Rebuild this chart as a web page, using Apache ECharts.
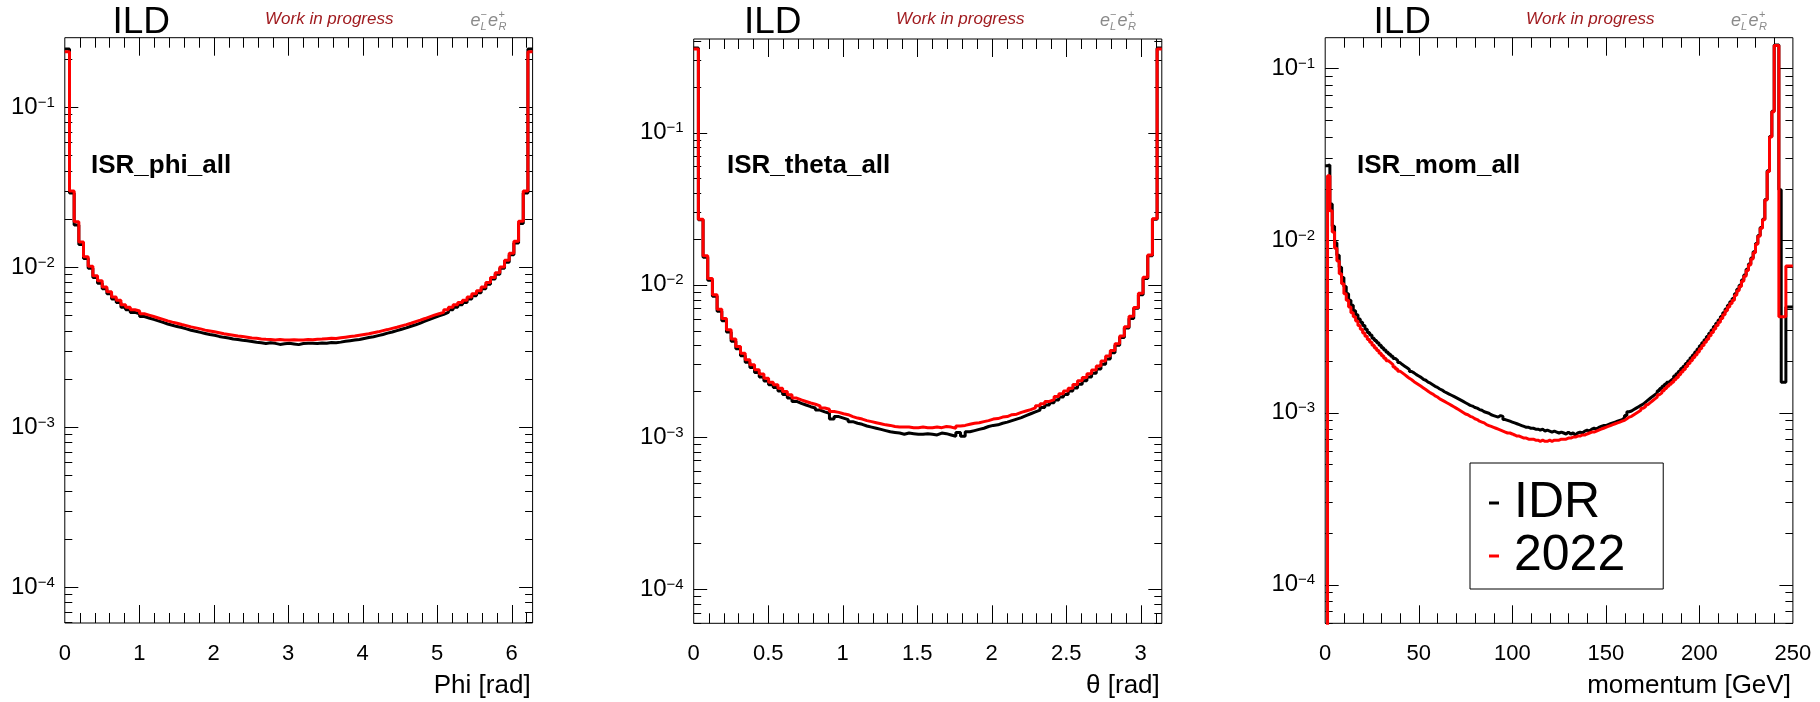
<!DOCTYPE html>
<html><head><meta charset="utf-8">
<script src="https://cdn.jsdelivr.net/npm/echarts@6/dist/echarts.min.js"></script>
<style>html,body{margin:0;padding:0;background:#fff}#c{width:1820px;height:702px}</style>
</head><body><div id="c"></div>
<script>
// ---------------- data (normalised bin contents) ----------------
const phiIDR = [0.23,0.029,0.0183,0.0138,0.0113,0.0098,0.0086,0.0079,0.0073,0.0068,
0.0063,0.006,0.0056,0.0054,0.0052,0.0051,0.0049,0.0048,0.0047,0.0046,
0.0045,0.0044,0.00432,0.00424,0.00418,0.0041,0.00402,0.00396,0.0039,0.00384,
0.00378,0.00374,0.00368,0.00363,0.0036,0.00355,0.00352,0.00348,0.00346,0.00342,
0.00338,0.00336,0.00332,0.00336,0.00333,0.00328,0.00331,0.00333,0.0033,0.00327,
0.00332,0.00333,0.00334,0.00332,0.00335,0.00334,0.00337,0.00336,0.00339,0.00343,
0.00346,0.00349,0.00352,0.00357,0.00362,0.00366,0.00372,0.00378,0.00386,0.00392,
0.004,0.00408,0.00416,0.00426,0.00435,0.00446,0.00458,0.0047,0.00482,0.00494,
0.00506,0.0052,0.0054,0.0056,0.0058,0.006,0.0063,0.0066,0.0069,0.0073,
0.0078,0.0084,0.009,0.0098,0.0107,0.0119,0.0141,0.0187,0.029,0.23];
const phi2022 = [0.221,0.0298,0.0192,0.0143,0.0116,0.0101,0.0088,0.0082,0.0075,0.0070,
0.0065,0.0062,0.0058,0.0056,0.0054,0.0053,0.0051,0.0050,0.0049,0.0048,
0.0047,0.0046,0.00452,0.00445,0.00437,0.0043,0.00422,0.00416,0.0041,0.00403,
0.00398,0.00393,0.00388,0.00382,0.00378,0.00374,0.0037,0.00367,0.00364,0.0036,
0.00358,0.00355,0.00353,0.00352,0.0035,0.00352,0.00349,0.0035,0.00351,0.00349,
0.0035,0.00352,0.00351,0.00353,0.00354,0.00356,0.00358,0.00357,0.00361,0.00364,
0.00367,0.0037,0.00374,0.00378,0.00382,0.00388,0.00393,0.004,0.00406,0.00413,
0.0042,0.00428,0.00436,0.00445,0.00455,0.00465,0.00476,0.00488,0.005,0.0051,
0.0052,0.0054,0.0056,0.0058,0.0060,0.0062,0.0065,0.0068,0.0071,0.0075,
0.0080,0.0086,0.0092,0.0100,0.0110,0.0122,0.0145,0.0193,0.0298,0.221];
const thetaIDR = [0.36,0.0268,0.0152,0.0107,0.0084,0.0067,0.0058,0.0049,0.00425,0.0038,
0.00342,0.0031,0.00286,0.00265,0.00248,0.00233,0.0022,0.00211,0.002,0.0019,
0.0018,0.00171,0.00166,0.00162,0.00158,0.00155,0.0015,0.00146,0.00143,0.00131,
0.00136,0.00133,0.0013,0.00126,0.00123,0.00121,0.00118,0.00116,0.00114,0.00112,
0.0011,0.00108,0.00107,0.00106,0.00104,0.00106,0.00105,0.00104,0.00104,0.00105,
0.00104,0.00103,0.00106,0.00105,0.00103,0.00101,0.00107,0.00101,0.00108,0.0011,
0.00112,0.00114,0.00117,0.00119,0.0012,0.00123,0.00125,0.00128,0.00131,0.00134,
0.00138,0.00142,0.00146,0.0015,0.00156,0.00162,0.00168,0.00175,0.00183,0.0019,
0.002,0.0021,0.00222,0.00234,0.00248,0.00262,0.0028,0.003,0.00325,0.00358,
0.004,0.0045,0.0052,0.006,0.007,0.0086,0.011,0.0155,0.027,0.36];
const theta2022 = [0.355,0.027,0.0155,0.011,0.0086,0.0069,0.006,0.00506,0.0044,0.00393,
0.00355,0.00321,0.00298,0.00276,0.00259,0.00243,0.00229,0.0022,0.00209,0.00199,
0.00189,0.0018,0.00175,0.00171,0.00167,0.00164,0.0016,0.00155,0.00152,0.00147,
0.00145,0.00142,0.0014,0.00136,0.00133,0.00131,0.00128,0.00126,0.00124,0.00122,
0.0012,0.00119,0.00117,0.00116,0.00116,0.00116,0.00115,0.00115,0.00116,0.00115,
0.00115,0.00116,0.00115,0.00117,0.00116,0.00114,0.00118,0.00119,0.00121,0.00123,
0.00124,0.00126,0.00128,0.00131,0.00132,0.00135,0.00136,0.0014,0.00141,0.00145,
0.00148,0.00151,0.00155,0.0016,0.00165,0.00171,0.00176,0.00184,0.00192,0.002,
0.00209,0.00221,0.00234,0.00246,0.0026,0.00275,0.00293,0.00315,0.0034,0.0037,
0.0041,0.0046,0.0053,0.0062,0.0071,0.0088,0.0112,0.0157,0.0272,0.355];
const momIDR = [0.0272,0.0275,0.0163,0.0121,0.0097,0.0082,0.007,0.0061,0.0054,0.0049,
0.0045,0.0042,0.0039,0.0037,0.0035,0.00335,0.0032,0.00305,0.00292,0.00282,
0.0027,0.00262,0.00254,0.00246,0.00238,0.00231,0.00224,0.00218,0.00212,0.00206,
0.00201,0.00195,0.0019,0.00186,0.00182,0.00178,0.00173,0.0017,0.00166,0.00163,
0.0016,0.00156,0.00154,0.0015,0.00148,0.00145,0.00142,0.0014,0.00137,0.00135,
0.00132,0.0013,0.00128,0.00126,0.00124,0.00122,0.0012,0.00118,0.00116,0.00114,
0.00112,0.0011,0.00109,0.00107,0.00106,0.00104,0.00103,0.00101,0.001,0.00099,
0.00097,0.00096,0.00095,0.00094,0.00096,0.00095,0.00091,0.0009,0.00089,0.00088,
0.00087,0.00086,0.00085,0.00084,0.00083,0.00082,0.00082,0.00081,0.00081,0.0008,
0.0008,0.00079,0.0008,0.00078,0.00079,0.00078,0.00077,0.00078,0.00077,0.00076,
0.00077,0.00076,0.00075,0.00077,0.00075,0.00076,0.00074,0.00076,0.00077,0.00076,
0.00078,0.00079,0.00078,0.0008,0.00081,0.0008,0.00082,0.00083,0.00084,0.00084,
0.00085,0.00086,0.00087,0.00088,0.00089,0.0009,0.00091,0.00093,0.00096,0.00101,
0.00102,0.00104,0.00106,0.00108,0.0011,0.00112,0.00115,0.00118,0.00121,0.00124,
0.00127,0.0013,0.00134,0.00138,0.00142,0.00146,0.0015,0.00154,0.00158,0.00163,
0.00168,0.00174,0.0018,0.00186,0.00193,0.002,0.00208,0.00216,0.00225,0.00234,
0.00244,0.00254,0.00265,0.00277,0.00289,0.00302,0.00316,0.0033,0.00345,0.00362,
0.0038,0.004,0.0042,0.0044,0.0046,0.0049,0.0052,0.0055,0.0059,0.0063,
0.0068,0.0073,0.0079,0.0086,0.0096,0.0107,0.0119,0.0133,0.0173,0.0254,
0.0402,0.0565,0.137,0.137,0.0197,0.0015,0.0015,0.0041,0.0041,0.0041];
const mom2022 = [1e-6,0.0238,0.0149,0.0112,0.009,0.0076,0.0064,0.0056,0.0049,0.0045,
0.0041,0.0038,0.0036,0.0034,0.0032,0.00305,0.0029,0.00278,0.00266,0.00256,
0.00246,0.00237,0.00229,0.00221,0.00214,0.00207,0.002,0.00195,0.0019,0.00184,
0.00179,0.00174,0.0017,0.00166,0.00162,0.00158,0.00155,0.00151,0.00148,0.00145,
0.00142,0.00139,0.00136,0.00133,0.0013,0.00128,0.00125,0.00123,0.0012,0.00118,
0.00116,0.00114,0.00112,0.0011,0.00108,0.00106,0.00104,0.00102,0.001,0.00098,
0.00097,0.00095,0.00094,0.00092,0.00091,0.00089,0.00088,0.00087,0.00085,0.00084,
0.00083,0.00082,0.00081,0.0008,0.00079,0.00078,0.00077,0.00076,0.00076,0.00075,
0.00074,0.00073,0.00073,0.00072,0.00071,0.00071,0.0007,0.0007,0.0007,0.00069,
0.00069,0.00068,0.00069,0.00068,0.00068,0.00069,0.00068,0.00069,0.00069,0.00069,
0.0007,0.0007,0.0007,0.00071,0.00071,0.00072,0.00072,0.00073,0.00073,0.00074,
0.00074,0.00075,0.00076,0.00077,0.00077,0.00078,0.00079,0.0008,0.00081,0.00082,
0.00083,0.00084,0.00085,0.00086,0.00087,0.00088,0.00089,0.0009,0.00092,0.00094,
0.00095,0.00097,0.00099,0.00101,0.00103,0.00106,0.00108,0.00111,0.00114,0.00117,
0.0012,0.00123,0.00127,0.0013,0.00134,0.00138,0.00142,0.00146,0.0015,0.00155,
0.0016,0.00166,0.00172,0.00178,0.00185,0.00193,0.002,0.00208,0.00216,0.00225,
0.00235,0.00245,0.00256,0.00267,0.00279,0.00292,0.00306,0.0032,0.00335,0.00352,
0.0037,0.0039,0.0041,0.0043,0.0045,0.0048,0.0051,0.0054,0.0058,0.0062,
0.0067,0.0072,0.0078,0.0085,0.0095,0.0106,0.0118,0.0132,0.0172,0.0252,
0.040,0.056,0.136,0.136,0.0036,0.0036,0.0036,0.0071,0.0071,0.0071];

// histogram ranges and axis tick labels
const phiRange = [0, 2 * Math.PI];
const thetaRange = [0, Math.PI];
const momRange = [0, 250];
const phiXTicks = [0, 1, 2, 3, 4, 5, 6];
const thetaXTicks = [0, 0.5, 1, 1.5, 2, 2.5, 3];
const momXTicks = [0, 50, 100, 150, 200, 250];
const yDecadeTicks = [1e-4, 1e-3, 1e-2, 1e-1];
const seriesNames = ['IDR', '2022'];
const histTitles = ['ISR_phi_all', 'ISR_theta_all', 'ISR_mom_all'];
const axisTitles = ['Phi [rad]', '\u03b8 [rad]', 'momentum [GeV]'];

// ---------------- layout / style ----------------
const FF = 'Liberation Sans';
const COLORS = ['#000000', '#ff0000'];
const layout = [
  {grid: {left: 64.8, top: 37.7, width: 467.8, height: 585.3}, yMin: 5.95e-5, yMax: 0.271,
   xInt: 1, xMinor: 0.2, showMax: false, ild: 112.5, wip: 265, ee: 470.5, name: 91},
  {grid: {left: 693.7, top: 39, width: 468.1, height: 584.3}, yMin: 5.95e-5, yMax: 0.413,
   xInt: 0.5, xMinor: 0.1, showMax: false, ild: 744, wip: 896, ee: 1100, name: 727},
  {grid: {left: 1325.2, top: 37.7, width: 467.7, height: 585.6}, yMin: 5.95e-5, yMax: 0.151,
   xInt: 50, xMinor: 10, showMax: true, ild: 1373.5, wip: 1526, ee: 1731, name: 1357}
];
const ranges = [phiRange, thetaRange, momRange];
const xTickLists = [phiXTicks, thetaXTicks, momXTicks];
const hists = [[phiIDR, phi2022], [thetaIDR, theta2022], [momIDR, mom2022]];

function histLine(vals, range) {
  const n = vals.length, w = (range[1] - range[0]) / n;
  const d = vals.map((v, i) => [range[0] + i * w, v]);
  d.push([range[1], vals[n - 1]]);
  return d;
}
function tickItems(majors, minorStep, range, yMin, yMax) {
  const d = [];
  for (let i = 1; i * minorStep < range[1] - 1e-9; i++) {
    const v = range[0] + i * minorStep;
    const isMajor = majors.some(m => Math.abs(m - v) < 1e-9) ? 1 : 0;
    d.push([v, yMin, 0, isMajor]);
  }
  for (let e = -6; e <= 0; e++) {
    for (let m = 1; m <= 9; m++) {
      const v = m * Math.pow(10, e);
      if (v <= yMin || v >= yMax) continue;
      const isMajor = yDecadeTicks.some(t => Math.abs(t - v) / t < 1e-9) ? 1 : 0;
      d.push([range[0], v, 1, isMajor]);
    }
  }
  return d;
}
function renderTick(params, api) {
  const cs = params.coordSys;
  const kind = api.value(2), major = api.value(3);
  const p = api.coord([api.value(0), api.value(1)]);
  const st = {stroke: '#000', lineWidth: 1};
  if (kind === 0) {
    const len = major ? 18 : 10;
    const x = Math.round(p[0]) + 0.5;
    return {type: 'group', children: [
      {type: 'line', shape: {x1: x, y1: cs.y + cs.height, x2: x, y2: cs.y + cs.height - len}, style: st},
      {type: 'line', shape: {x1: x, y1: cs.y, x2: x, y2: cs.y + len}, style: st}
    ]};
  }
  const len = major ? 13.5 : 7.5;
  const y = Math.round(p[1]) + 0.5;
  return {type: 'group', children: [
    {type: 'line', shape: {x1: cs.x, y1: y, x2: cs.x + len, y2: y}, style: st},
    {type: 'line', shape: {x1: cs.x + cs.width, y1: y, x2: cs.x + cs.width - len, y2: y}, style: st}
  ]};
}
function yLabel(v) {
  const l = Math.log10(v), r = Math.round(l);
  if (Math.abs(l - r) > 1e-6) return '';
  return '{b|10}{s|\u2212' + (-r) + '}';
}

const grids = [], xAxes = [], yAxes = [], series = [], graphics = [];
layout.forEach((L, i) => {
  grids.push(Object.assign({show: true, borderColor: '#000', borderWidth: 1, backgroundColor: 'transparent', containLabel: false}, L.grid));
  xAxes.push({
    gridIndex: i, type: 'value', min: ranges[i][0], max: ranges[i][1], interval: L.xInt,
    axisLine: {show: false}, axisTick: {show: false}, splitLine: {show: false},
    axisLabel: {fontSize: 22, fontFamily: FF, color: '#000', margin: 20, showMaxLabel: L.showMax,
      formatter: v => (xTickLists[i].some(t => Math.abs(t - v) < 1e-9) ? String(v) : '')},
    name: axisTitles[i], nameLocation: 'end', nameGap: -2,
    nameTextStyle: {fontSize: 26, fontFamily: FF, color: '#000', align: 'right', verticalAlign: 'top', padding: [50, 0, 0, 0]}
  });
  yAxes.push({
    gridIndex: i, type: 'log', logBase: 10, min: L.yMin, max: L.yMax,
    axisLine: {show: false}, axisTick: {show: false}, splitLine: {show: false}, minorTick: {show: false},
    axisLabel: {margin: 10, formatter: yLabel,
      rich: {b: {fontSize: 24, fontFamily: FF, color: '#000', lineHeight: 24, padding: [6, 0, 0, 0], verticalAlign: 'bottom'},
             s: {fontSize: 15, fontFamily: FF, color: '#000', lineHeight: 24, verticalAlign: 'top'}}}
  });
  series.push({
    type: 'custom', xAxisIndex: i, yAxisIndex: i, silent: true, z: 1, animation: false,
    renderItem: renderTick, data: tickItems(xTickLists[i], L.xMinor, ranges[i], L.yMin, L.yMax)
  });
  hists[i].forEach((vals, s) => {
    series.push({
      type: 'line', name: seriesNames[s], xAxisIndex: i, yAxisIndex: i, step: 'end',
      data: histLine(vals, ranges[i]), showSymbol: false, symbol: 'none', clip: true,
      color: COLORS[s], itemStyle: {color: COLORS[s]},
      lineStyle: {color: COLORS[s], width: 3}, z: 2 + s, animation: false, silent: true
    });
  });
  const t = (x, y, text, o) => graphics.push({type: 'text', x: x, y: y, silent: true,
    style: Object.assign({text: text, fontFamily: FF, fill: '#000', align: 'left', verticalAlign: 'middle',
      textAlign: 'left', textVerticalAlign: 'middle'}, o)});
  t(L.ild, 22.5, 'ILD', {fontSize: 37});
  t(L.wip, 19, 'Work in progress', {fontSize: 17, fontStyle: 'italic', fill: '#a01b1f'});
  const g = '#8a8a8a';
  t(L.ee, 20.5, 'e', {fontSize: 18, fontStyle: 'italic', fill: g});
  t(L.ee + 10, 14.5, '\u2212', {fontSize: 11, fill: g});
  t(L.ee + 10, 27, 'L', {fontSize: 11, fontStyle: 'italic', fill: g});
  t(L.ee + 17.5, 20.5, 'e', {fontSize: 18, fontStyle: 'italic', fill: g});
  t(L.ee + 28, 14.5, '+', {fontSize: 11, fill: g});
  t(L.ee + 28, 27, 'R', {fontSize: 11, fontStyle: 'italic', fill: g});
  t(L.name, 166, histTitles[i], {fontSize: 26, fontWeight: 'bold'});
});

const chart = echarts.init(document.getElementById('c'), null, {renderer: 'canvas'});
chart.setOption({
  animation: false,
  backgroundColor: '#fff',
  grid: grids, xAxis: xAxes, yAxis: yAxes, series: series,
  legend: {
    data: seriesNames, orient: 'vertical', left: 1470, top: 463,
    padding: [15, 38, 8, 19], itemGap: 3, itemWidth: 10, itemHeight: 3, icon: 'rect',
    borderColor: '#000', borderWidth: 1, backgroundColor: '#fff', borderRadius: 0,
    selectedMode: false, z: 10,
    textStyle: {fontSize: 50, lineHeight: 50, fontFamily: FF, color: '#000', padding: [0, 0, 0, 10]}
  },
  graphic: {elements: graphics}
});
</script>
</body></html>
